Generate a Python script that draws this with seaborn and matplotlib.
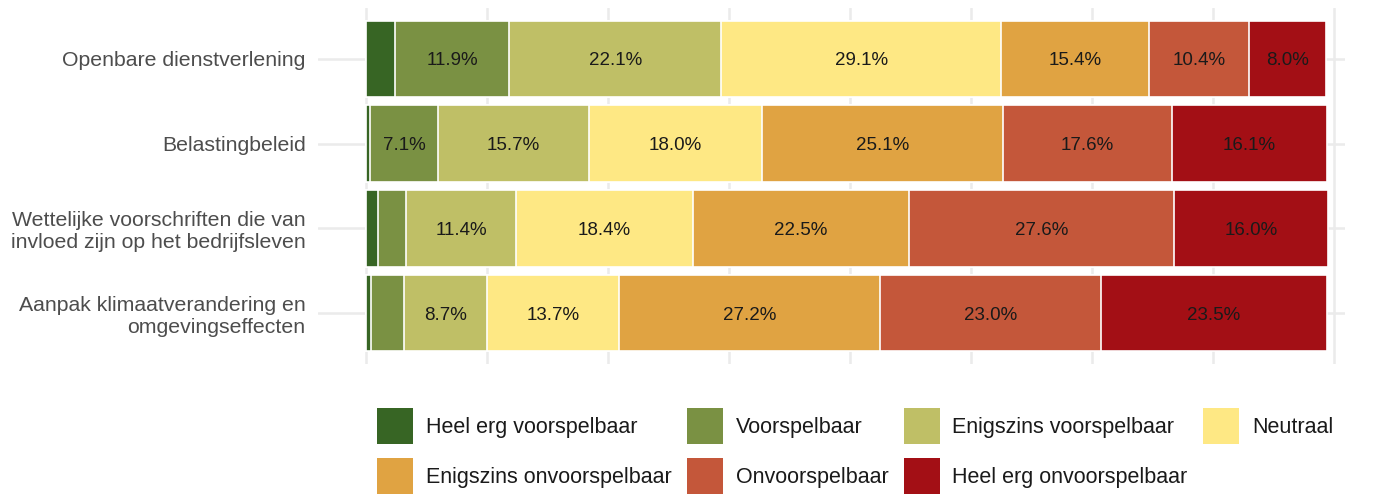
import matplotlib
matplotlib.use("Agg")
import matplotlib.pyplot as plt
import seaborn as sns
import numpy as np
import pandas as pd
from matplotlib.patches import Patch

categories = [
    "Openbare dienstverlening",
    "Belastingbeleid",
    "Wettelijke voorschriften die van\ninvloed zijn op het bedrijfsleven",
    "Aanpak klimaatverandering en\nomgevingseffecten",
]
levels = [
    "Heel erg voorspelbaar",
    "Voorspelbaar",
    "Enigszins voorspelbaar",
    "Neutraal",
    "Enigszins onvoorspelbaar",
    "Onvoorspelbaar",
    "Heel erg onvoorspelbaar",
]
heel_erg_voorspelbaar = [3.0, 0.4, 1.2, 0.5]
voorspelbaar = [11.9, 7.1, 3.0, 3.4]
enigszins_voorspelbaar = [22.1, 15.7, 11.4, 8.7]
neutraal = [29.1, 18.0, 18.4, 13.7]
enigszins_onvoorspelbaar = [15.4, 25.1, 22.5, 27.2]
onvoorspelbaar = [10.4, 17.6, 27.6, 23.0]
heel_erg_onvoorspelbaar = [8.0, 16.1, 16.0, 23.5]
colors = ["#376524", "#7a9143", "#bfbf66", "#fee884", "#e0a342", "#c4573a", "#a30f15"]

series = [heel_erg_voorspelbaar, voorspelbaar, enigszins_voorspelbaar, neutraal,
          enigszins_onvoorspelbaar, onvoorspelbaar, heel_erg_onvoorspelbaar]
vals = np.array(series)  # levels x categories
cum = np.cumsum(vals, axis=0)

sns.set_theme(style="white")
plt.rcParams["font.family"] = ["Liberation Sans", "DejaVu Sans"]

fig = plt.figure(figsize=(13.8, 4.95), dpi=100)
ax = fig.add_axes([318 / 1380, 1 - 364 / 495, (1345 - 318) / 1380, 356 / 495])

# grid lines
for gx in np.arange(0, 101, 12.59):
    ax.axvline(gx, color="#ebebeb", lw=1.8, zorder=0)
for i in range(len(categories)):
    ax.axhline(i, color="#ebebeb", lw=1.8, zorder=0)

# cumulative bars drawn from the outermost to the innermost
for k in range(len(levels) - 1, -1, -1):
    df = pd.DataFrame({"cat": categories, "cum": cum[k]})
    sns.barplot(data=df, x="cum", y="cat", orient="h", color=colors[k],
                width=0.9, edgecolor="white", linewidth=1.2, saturation=1,
                ax=ax, zorder=2)

for k in range(len(levels)):
    for i in range(len(categories)):
        v = vals[k, i]
        if v >= 5:
            ax.text(cum[k, i] - v / 2, i, f"{v:.1f}%", ha="center", va="center_baseline",
                    fontsize=13.5, color="#1a1a1a", zorder=3)

ax.set_xlim(-5, 101.9)
ax.set_ylim(len(categories) - 0.4, -0.6)
ax.set_xlabel("")
ax.set_ylabel("")
ax.set_xticks([])
ax.tick_params(axis="y", length=0, pad=9, labelsize=15.3, labelcolor="#4d4d4d")
for s in ax.spines.values():
    s.set_visible(False)

handles = [Patch(facecolor=c, edgecolor="none") for c in colors]
order = [0, 4, 1, 5, 2, 6, 3]
fs = 15.5
px = fs * 100 / 72
leg = fig.legend([handles[i] for i in order], [levels[i] for i in order],
                 ncol=4, loc="upper left", bbox_to_anchor=(377 / 1380, 1 - 408 / 495),
                 frameon=False, fontsize=fs, handlelength=36 / px, handleheight=2.2,
                 handletextpad=13 / px, columnspacing=15 / px, labelspacing=0.66,
                 borderpad=0, borderaxespad=0)
for t in leg.get_texts():
    t.set_color("#1a1a1a")

fig.savefig("out.png", dpi=100)
